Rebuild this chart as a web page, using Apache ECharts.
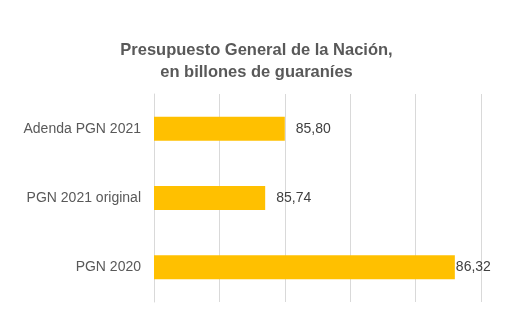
<!DOCTYPE html>
<html><head><meta charset="utf-8">
<script src="https://cdn.jsdelivr.net/npm/echarts@6/dist/echarts.min.js"></script>
<style>html,body{margin:0;padding:0;background:#fff}#c{width:513px;height:322px}</style>
</head><body><div id="c"></div>
<script>
const categories = ['Adenda PGN 2021', 'PGN 2021 original', 'PGN 2020'];
const values = [85.80, 85.74, 86.32];
const titleText = 'Presupuesto General de la Nación,\nen billones de guaraníes';
const axisMin = 85.4, axisMax = 86.4, axisStep = 0.2;

const chart = echarts.init(document.getElementById('c'), null, {renderer: 'canvas'});
const fmt = v => v.toFixed(2).replace('.', ',');
chart.setOption({
  animation: false,
  title: {
    text: titleText, left: 'center', top: 34,
    textStyle: {fontFamily: 'Liberation Sans, Arial, sans-serif', fontSize: 16.5, fontWeight: 'bold', color: '#595959', lineHeight: 22}
  },
  grid: {left: 154, right: 32, top: 94, bottom: 20, containLabel: false},
  xAxis: {
    type: 'value', min: axisMin, max: axisMax, interval: axisStep,
    axisLabel: {show: false}, axisLine: {show: false}, axisTick: {show: false},
    splitLine: {show: true, lineStyle: {color: '#d9d9d9', width: 1}}
  },
  yAxis: {
    type: 'category', data: categories, inverse: true,
    axisLine: {show: true, lineStyle: {color: '#d9d9d9'}},
    axisTick: {show: false},
    axisLabel: {margin: 13, color: '#595959', fontSize: 14, fontFamily: 'Liberation Sans, Arial, sans-serif'}
  },
  series: [{
    type: 'bar', barWidth: 24,
    itemStyle: {color: '#ffc000'},
    data: values.map((v, i) => ({
      value: v,
      label: {distance: i === values.length - 1 ? 1 : 11}
    })),
    label: {
      show: true, position: 'right', formatter: p => fmt(p.value),
      color: '#404040', fontSize: 14, fontFamily: 'Liberation Sans, Arial, sans-serif'
    }
  }]
});
</script></body></html>
